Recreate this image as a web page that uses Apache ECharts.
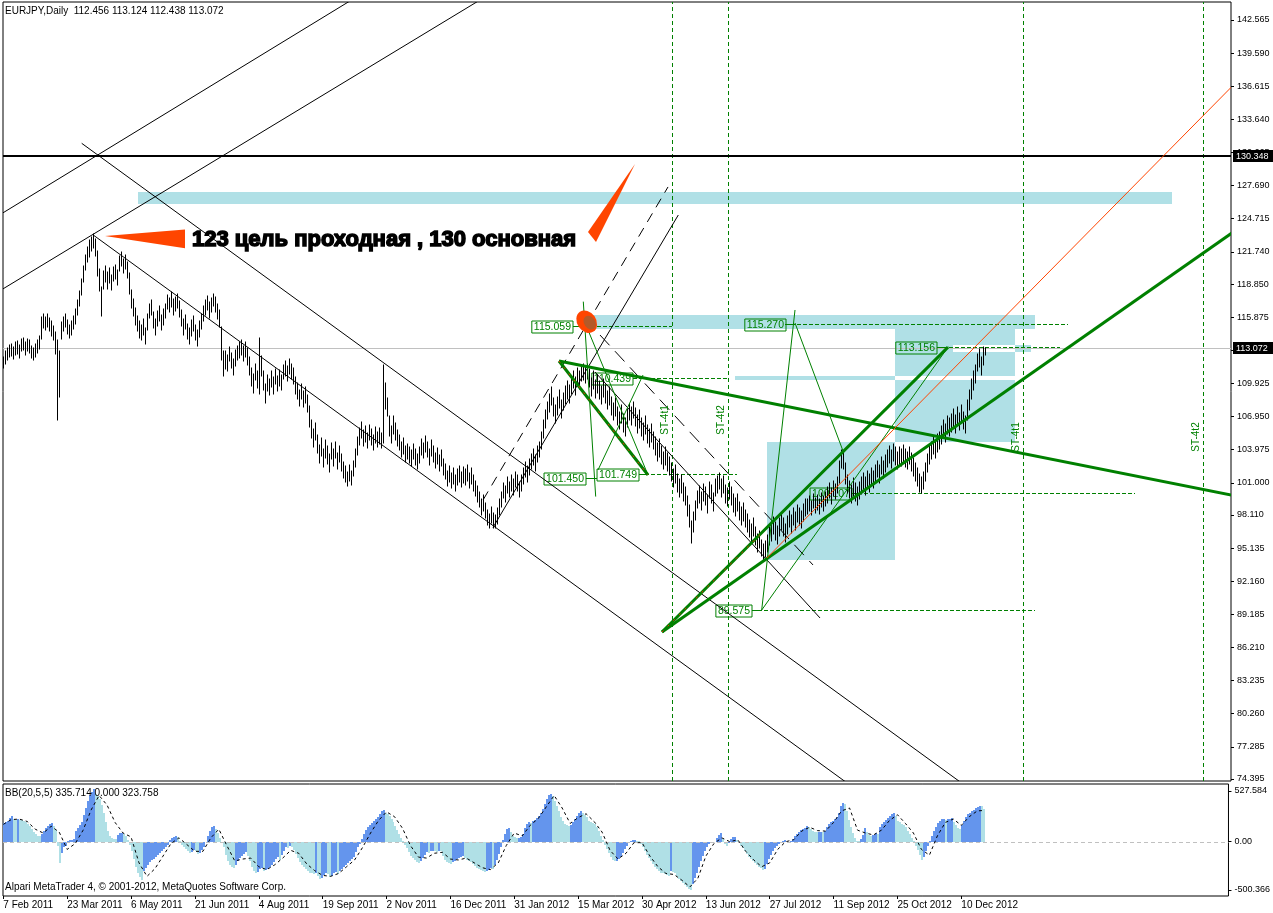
<!DOCTYPE html>
<html><head><meta charset="utf-8">
<script src="https://cdn.jsdelivr.net/npm/echarts@6/dist/echarts.min.js"></script>
<style>html,body{margin:0;padding:0;background:#fff}#c{width:1273px;height:913px}</style>
</head><body><div id="c"></div>
<script>
// ---------------- DATA ----------------
const dateLabels = ['7 Feb 2011','23 Mar 2011','6 May 2011','21 Jun 2011','4 Aug 2011','19 Sep 2011','2 Nov 2011','16 Dec 2011','31 Jan 2012','15 Mar 2012','30 Apr 2012','13 Jun 2012','27 Jul 2012','11 Sep 2012','25 Oct 2012','10 Dec 2012'];
const dateTickBars = [0,32,64,96,128,160,192,224,256,288,320,352,384,416,448,480];
const priceTicks = [142.565,139.590,136.615,133.640,130.665,127.690,124.715,121.740,118.850,115.875,112.900,109.925,106.950,103.975,101.000,98.110,95.135,92.160,89.185,86.210,83.235,80.260,77.285,74.395];
const oscTicks = [527.584, 0, -500.366];
const oscTickLabels = ['527.584','0.00','-500.366'];

const highs = [
112.3,112.8,113.1,113.4,113.5,113.2,113.6,113.7,113.4,113.9,
114.0,113.6,113.9,113.8,113.3,113.1,113.5,113.8,114.2,115.9,
116.2,115.9,116.2,115.8,115.5,115.1,114.5,113.8,112.8,115.4,
115.9,116.2,115.6,115.2,115.5,116.0,116.6,117.4,118.2,119.3,
120.5,121.5,122.2,122.8,123.1,123.3,122.9,121.8,120.2,118.6,
120.0,120.5,119.9,120.3,119.7,120.4,120.6,120.1,121.4,121.7,
121.1,121.5,120.8,119.8,118.3,117.5,116.7,116.0,115.5,115.2,
115.7,114.9,116.2,117.1,117.4,116.3,115.7,116.4,116.9,116.1,
116.6,117.1,117.9,117.6,118.1,117.5,117.7,118.0,117.3,116.5,
115.7,116.1,115.3,114.9,115.6,116.0,115.2,114.7,115.5,116.2,
116.9,117.4,117.8,117.2,117.6,118.0,117.7,117.1,116.5,115.0,
112.8,112.8,112.5,113.2,112.7,112.1,112.9,113.3,113.6,113.8,
113.3,113.6,113.1,112.3,111.3,110.8,111.7,111.0,114.0,112.4,
111.0,109.9,110.7,110.3,111.0,110.5,111.2,110.6,111.1,110.7,
111.6,111.9,111.5,112.1,111.7,111.3,110.5,110.0,109.3,109.9,
109.2,109.6,108.9,107.9,106.6,105.8,106.4,105.3,104.4,105.0,
104.0,104.8,104.3,103.6,104.6,104.0,104.7,103.7,104.3,103.6,
102.9,102.5,102.0,102.6,102.1,103.0,104.0,105.1,105.9,106.5,
105.7,106.1,105.5,106.2,105.8,105.3,106.0,105.6,105.9,105.5,
111.6,110.0,108.6,107.0,106.1,107.0,106.4,105.7,105.3,104.7,
105.0,104.3,104.5,104.2,103.9,104.5,104.0,103.6,104.2,104.9,
104.6,105.2,104.7,104.0,104.8,104.3,103.7,104.1,103.5,103.9,
103.1,102.7,102.1,102.5,101.9,102.3,101.7,102.2,102.5,102.0,
102.4,102.2,102.6,101.9,102.3,101.7,101.2,100.7,100.2,99.5,
99.9,99.2,98.6,98.2,98.8,98.3,98.1,98.7,99.5,100.2,
101.0,100.7,101.5,101.1,101.7,101.3,102.0,101.7,101.1,101.7,
102.3,102.9,102.5,103.1,103.6,104.0,103.5,104.3,104.7,105.6,
106.6,107.5,108.3,109.0,109.6,108.6,108.0,108.7,109.3,108.4,
109.1,109.7,110.1,109.8,110.6,111.0,110.5,111.3,111.0,111.6,
111.7,111.5,111.7,111.2,110.4,111.0,110.2,110.7,110.1,109.7,
110.3,109.8,109.2,109.6,108.7,108.2,108.6,107.8,107.4,108.0,
107.2,106.8,107.6,108.1,107.8,108.3,107.7,107.1,107.5,106.8,
106.4,107.0,106.2,105.8,106.3,105.6,105.1,104.6,104.9,104.3,
103.8,104.2,103.7,103.3,102.8,102.2,102.6,101.8,101.3,101.7,
101.0,100.6,99.8,99.0,97.6,98.4,99.4,100.3,100.7,100.2,
100.9,100.6,99.9,101.1,100.8,100.1,101.3,101.6,101.9,101.3,
101.6,100.8,100.5,101.1,100.6,100.0,99.6,100.0,99.3,98.8,
99.2,98.6,98.2,97.7,97.3,97.8,97.0,96.4,96.7,95.9,
95.5,95.8,96.3,97.0,97.4,97.9,97.5,97.1,97.8,98.3,
97.8,97.3,98.0,98.5,98.1,98.7,98.4,99.0,98.7,98.5,
99.1,99.5,99.5,99.8,99.4,100.0,99.6,99.9,99.5,100.1,
99.8,100.2,100.6,101.0,100.5,101.2,100.9,101.5,103.0,103.9,
103.8,102.8,101.7,101.2,100.8,101.4,101.0,100.6,101.1,101.5,
101.9,101.5,102.1,101.8,102.3,102.1,102.6,103.0,102.6,103.3,
103.0,103.5,103.9,104.3,103.9,104.5,104.2,103.8,104.2,104.0,
104.4,104.0,103.8,104.2,103.7,103.2,102.8,102.3,101.8,101.5,
102.0,102.8,103.6,104.3,104.7,105.2,104.8,105.4,105.6,106.1,
106.6,106.3,107.0,106.8,107.2,107.6,107.1,107.8,107.3,108.0,
107.4,107.0,108.4,109.3,110.3,111.0,111.6,112.6,113.0,112.3,
113.2,113.124];

const lows = [
111.3,111.7,112.0,112.3,112.4,112.1,112.5,112.6,112.2,112.8,
112.9,112.5,112.8,112.7,112.2,112.0,112.3,112.7,113.0,113.9,
114.9,114.7,115.0,114.6,114.2,113.8,112.6,106.6,108.7,113.9,
114.6,115.0,114.4,114.0,114.3,114.8,115.3,116.1,116.9,117.9,
119.0,120.1,120.8,121.3,121.8,122.1,121.4,119.6,118.2,116.0,
118.4,119.0,118.4,118.9,118.3,119.1,119.3,118.8,120.0,120.5,
119.8,120.2,119.4,118.0,116.7,116.0,115.2,114.6,114.0,113.8,
114.3,113.5,114.7,115.8,116.1,114.9,114.3,115.1,115.5,114.7,
115.2,115.8,116.6,116.3,116.8,116.1,116.4,116.7,115.9,115.1,
114.3,114.8,113.9,113.5,114.2,114.6,113.8,113.3,114.1,114.8,
115.5,116.1,116.5,115.8,116.3,116.9,116.3,115.7,115.0,112.0,
110.6,111.2,111.0,111.9,111.3,110.7,111.5,112.0,112.2,112.5,
111.9,112.3,111.6,110.7,109.7,109.1,110.2,109.5,109.0,110.6,
109.3,108.2,109.2,108.9,109.6,109.0,109.9,109.2,109.7,109.3,
110.3,110.6,110.1,110.8,110.3,109.9,109.0,108.5,107.9,108.5,
107.8,108.2,107.4,106.0,105.0,104.2,104.8,103.7,102.8,103.4,
102.4,103.2,102.7,102.0,103.1,102.5,103.2,102.2,102.9,102.1,
101.4,101.1,100.7,101.2,100.8,101.6,102.4,103.5,104.4,105.0,
104.3,104.7,104.1,104.8,104.4,103.9,104.6,104.2,104.5,104.1,
104.6,107.6,107.0,105.2,104.6,105.4,104.8,104.3,103.9,103.3,
103.6,102.9,103.1,102.8,102.5,103.1,102.6,102.2,102.8,103.5,
103.2,103.8,103.3,102.6,103.4,102.9,102.3,102.7,102.1,102.5,
101.7,101.3,100.7,101.1,100.5,100.9,100.3,100.8,101.1,100.6,
101.0,100.8,101.2,100.5,100.9,100.3,99.8,99.3,98.8,98.1,
98.5,97.8,97.2,96.9,97.4,96.9,96.9,97.3,98.1,98.8,
99.6,99.3,100.1,99.7,100.3,99.9,100.6,100.3,99.7,100.3,
100.9,101.5,101.1,101.7,102.2,102.6,102.1,102.9,103.3,104.0,
105.0,105.9,106.7,107.4,108.0,107.0,106.4,107.1,107.7,106.8,
107.5,108.1,108.5,108.2,109.0,109.5,108.9,109.8,109.4,110.1,
110.2,110.0,110.3,109.6,108.8,109.4,108.6,109.1,108.5,108.1,
108.7,108.2,107.6,108.0,107.1,106.6,107.0,106.2,105.8,106.4,
105.6,105.2,106.0,106.6,106.2,106.8,106.1,105.5,105.9,105.2,
104.8,105.4,104.6,104.2,104.7,104.0,103.5,103.0,103.3,102.7,
102.2,102.6,102.1,101.7,101.2,100.6,101.0,100.2,99.7,100.1,
99.4,99.0,98.0,97.0,95.6,96.6,97.7,98.7,99.2,98.6,
99.4,99.0,98.3,99.6,99.2,98.5,99.8,100.1,100.4,99.7,
100.1,99.2,98.9,99.5,99.0,98.4,98.0,98.5,97.7,97.2,
97.6,97.0,96.6,96.1,95.7,96.2,95.4,94.8,95.1,94.4,
94.1,94.3,94.8,95.4,95.8,96.4,95.9,95.5,96.2,96.8,
96.2,95.7,96.4,97.0,96.5,97.2,96.8,97.5,97.2,96.9,
97.6,98.0,98.2,98.5,98.1,98.7,98.3,98.6,98.2,98.8,
98.5,98.9,99.2,99.6,99.1,99.8,99.5,100.1,101.0,102.3,
102.2,100.9,100.1,99.6,99.2,99.8,99.4,99.0,99.5,100.0,
100.4,99.9,100.6,100.2,100.8,100.5,101.1,101.5,101.0,101.8,
101.4,102.0,102.4,102.8,102.3,103.0,102.6,102.2,102.7,102.5,
102.9,102.4,102.2,102.7,102.1,101.6,101.2,100.7,100.2,100.1,
100.4,101.2,102.0,102.7,103.1,103.6,103.2,103.8,104.0,104.5,
105.0,104.7,105.4,105.2,105.6,106.0,105.5,106.2,105.7,106.4,
105.8,105.5,106.6,107.5,108.5,109.3,110.0,111.0,111.4,110.7,
111.6,112.438];

const hist = [
190,200,215,250,265,240,230,235,228,225,
215,200,185,160,130,100,75,60,55,80,
110,140,165,185,195,160,120,-40,-220,-120,
-60,-40,10,15,20,25,110,140,170,200,
280,350,420,480,520,545,500,470,440,380,
300,200,110,60,40,30,25,70,90,95,
75,60,20,-30,-100,-180,-260,-320,-370,-395,
-300,-270,-240,-215,-195,-180,-160,-140,-120,-100,
-80,-60,-30,20,40,50,55,45,10,-30,
-60,-80,-100,-120,-110,-90,-100,-130,-120,-90,
-50,0,60,110,150,160,130,90,40,0,
-60,-140,-200,-240,-265,-270,-240,-200,-170,-150,
-130,-110,-150,-200,-260,-300,-330,-310,-280,-270,
-300,-290,-280,-260,-240,-210,-180,-160,-190,-140,
-100,-60,-70,-40,-60,-90,-130,-170,-210,-240,
-260,-280,-300,-320,-330,-340,-320,-360,-390,-380,
-350,-330,-340,-370,-360,-330,-310,-340,-300,-280,
-260,-240,-220,-200,-180,-160,-110,-60,-20,30,
80,120,150,170,190,210,240,260,290,320,
330,300,290,270,240,200,160,120,80,40,
10,-30,-70,-110,-150,-170,-190,-210,-220,-200,
-170,-140,-110,-120,-100,-95,-100,-110,-95,-100,
-150,-190,-210,-220,-230,-210,-200,-180,-170,-160,
-150,-170,-190,-200,-210,-230,-250,-270,-280,-290,
-300,-310,-300,-290,-270,-280,-240,-190,-130,-60,
20,80,130,140,100,60,45,35,40,50,
80,140,180,200,190,210,230,250,270,300,
340,390,440,480,500,470,420,370,320,260,
210,180,170,165,175,200,240,270,300,315,
300,280,260,220,200,190,180,150,110,60,
20,-30,-80,-120,-160,-190,-205,-200,-180,-160,
-120,-80,-40,-10,5,15,20,10,5,-20,
-60,-100,-140,-170,-200,-230,-260,-280,-300,-320,
-330,-340,-350,-360,-300,-310,-330,-360,-390,-410,
-430,-450,-470,-490,-500,-440,-380,-320,-260,-200,
-150,-100,-50,-20,-15,-10,-5,40,70,90,
30,-20,-40,-10,30,45,50,20,-10,-40,
-70,-100,-130,-160,-180,-200,-220,-240,-260,-275,
-290,-280,-230,-180,-140,-100,-70,-40,-20,-10,
10,15,-5,-15,5,30,60,80,100,120,
130,145,160,155,130,115,105,100,100,105,
100,110,150,180,200,220,240,260,300,370,
400,390,320,230,150,90,40,10,5,30,
70,140,100,70,60,65,70,90,80,150,
180,200,230,250,270,290,295,270,220,200,
180,170,150,110,80,40,10,-40,-90,-140,
-190,-160,-100,-40,10,60,110,150,190,220,
235,240,230,235,240,245,200,170,140,135,
170,220,260,290,300,320,330,345,360,375,
370,336];

const signalStep = 4;
const signal = [
180,230,235,210,130,90,160,100,-80,-20,
120,330,480,380,200,90,50,-220,-360,-280,
-150,-20,40,-30,-100,-100,40,130,-40,-200,
-180,-170,-260,-290,-240,-170,-90,-120,-230,-300,
-350,-360,-330,-260,-190,-60,90,220,310,260,
140,-40,-160,-170,-120,-110,-180,-190,-170,-220,
-270,-290,-220,-40,90,60,170,240,360,480,
350,190,250,290,210,100,-90,-180,-120,-10,
-10,-150,-260,-330,-340,-400,-470,-380,-150,-20,
40,0,20,-100,-190,-260,-220,-80,0,20,
110,150,115,110,200,320,350,120,90,70,
120,220,280,190,90,-80,-140,60,200,235,
170,260,320];
const lastSignal = 323.758;

const currentPrice = 113.072;
const levelPrice = 130.348;
const priceMarks = [130.348, 113.072];

// chart objects (bar index, price)
const blackLines = [
  [-0.3,125.23, 182.3,145.26],
  [-0.3,118.40, 246.6,145.26],
  [39.2,131.49, 490.85,72.51],
  [45.0,123.25, 433.6,72.51],
  [244.85,96.99, 337.5,125.05],
  [295.85,110.95, 408.35,88.86]
];
const blackDashLong = [[239.85,99.45, 332.35,127.57]];
const blackDashLong2 = [[298.35,114.27, 404.85,93.62]];
const lightBlueRects = [
  [67.5,127.14, 584.35,126.04],
  [294.85,116.07, 515.85,114.81],
  [445.85,114.81, 505.85,104.69],
  [381.7,104.69, 445.85,94.07],
  [365.85,110.59, 445.85,110.23],
  [505.85,113.38, 513.85,112.77]
];
const whiteRects = [
  [445.85,110.59, 505.85,110.23],
  [475.0,113.38, 505.85,112.77]
];
const levelLines = [ // [fromBar, toBar, price]
  [284.85,334.35,115.059],
  [390.85,532.35,115.270],
  [466.85,528.35,113.156],
  [314.85,361.85,110.439],
  [317.85,366.85,101.749],
  [424.35,565.85,100.107],
  [374.35,515.85,89.575]
];
const levelLabels = [ // [boxRightBar, price, anchorBar]
  [284.85,115.059,290.85],
  [391.35,115.270,395.85],
  [466.85,113.156,472.35],
  [314.85,110.439,314.85],
  [291.35,101.450,296.85],
  [317.85,101.749,322.35],
  [424.35,100.107,428.35],
  [374.35,89.575,379.35]
];
const stBars = [334.35, 362.35, 509.85, 599.85];
const stTexts = [['ST-4t1',330.85,106.64],['ST-4t2',358.85,106.64],['ST-4t1',506.35,105.11],['ST-4t2',596.35,105.11]];
const thickGreen = [
  [277.85,111.94, 620,99.68],
  [329.35,87.60, 472.35,113.19],
  [329.35,87.60, 620,124.15],
  [277.85,111.94, 322.35,101.70]
];
const redDotted = [
  [277.85,111.94, 322.35,101.70],
  [329.35,87.60, 380.0,96.63]
];
const thinGreen = [
  [290.0,117.27, 296.2,99.76],
  [292.35,114.72, 322.35,101.70],
  [297.35,102.15, 319.85,110.68],
  [379.2,89.57, 395.85,116.52],
  [395.85,115.35, 420.0,103.79],
  [379.2,89.57, 472.5,113.22]
];
const orangeLine = [[381.7,94.24, 614.2,136.57]];
const wedges = [
  [[50.85,123.16],[90.85,123.76],[90.85,122.06]],
  [[315.85,129.63],[292.35,123.52],[296.35,122.63]]
];
const ellipseAt = [291.7,115.47];
const noteText = ['123 цель проходная , 130 основная', 94.35, 122.81];

// ---------------- LAYOUT ----------------
const XMIN=-0.15, XMAX=613.85, YMIN=74.216, YMAX=144.182, OMIN=-563.9, OMAX=599.2;
const FONT='"Liberation Sans", Arial, sans-serif';
const GREEN='#008000', LB='#B0E0E6', DARK='#6495ED', ORANGE='#FF4500';

function segSeries(data, style, z, gi, crisp){
  return {type:'custom', xAxisIndex:gi||0, yAxisIndex:gi||0, z:z, clip:true, silent:true, animation:false,
    data:data, encode:{x:[0,2], y:[1,3]},
    renderItem:function(p,api){
      const a=api.coord([api.value(0),api.value(1)]), b=api.coord([api.value(2),api.value(3)]);
      let x1=a[0],y1=a[1],x2=b[0],y2=b[1];
      if(crisp){ if(Math.abs(y1-y2)<0.01){y1=y2=Math.round(y1)+0.5;} if(Math.abs(x1-x2)<0.01){x1=x2=Math.round(x1)+0.5;} }
      return {type:'line', shape:{x1:x1,y1:y1,x2:x2,y2:y2}, style:Object.assign({fill:null}, style)};
    }};
}
function rectSeries(data, color, z){
  return {type:'custom', xAxisIndex:0, yAxisIndex:0, z:z, clip:true, silent:true, animation:false,
    data:data, encode:{x:[0,2], y:[1,3]},
    renderItem:function(p,api){
      const a=api.coord([api.value(0),api.value(1)]), b=api.coord([api.value(2),api.value(3)]);
      const x=Math.round(Math.min(a[0],b[0])), y=Math.round(Math.min(a[1],b[1]));
      return {type:'rect', shape:{x:x,y:y,width:Math.round(Math.abs(b[0]-a[0])),height:Math.max(1,Math.round(Math.abs(b[1]-a[1])))}, style:{fill:color}};
    }};
}

const barData = highs.map((h,i)=>[i, lows[i], h]);
const histData = hist.map((v,i)=>[i, v, (i===0 || v>=hist[i-1]) ? 1 : 0]);
const signalData = signal.map((v,k)=>[k*signalStep, v]).concat([[highs.length-1, lastSignal]]);
const levelSegs = levelLines.map(d=>[d[0],d[2],d[1],d[2]]);
const vertSegs = stBars.map(b=>[b,YMIN,b,YMAX]);

const series = [
  rectSeries(lightBlueRects, LB, 1),
  rectSeries(whiteRects, '#fff', 2),
  segSeries(vertSegs, {stroke:GREEN, lineWidth:1, lineDash:[4,3]}, 3, 0, true),
  segSeries([[XMIN,currentPrice,XMAX,currentPrice]], {stroke:'#C0C0C0', lineWidth:1}, 3, 0, true),
  segSeries([[XMIN,levelPrice,XMAX,levelPrice]], {stroke:'#000', lineWidth:2}, 3, 0, false),
  segSeries(levelSegs, {stroke:GREEN, lineWidth:1, lineDash:[4,2]}, 3, 0, true),
  { // price labels boxes
    type:'custom', xAxisIndex:0, yAxisIndex:0, z:3, clip:true, silent:true, animation:false,
    data:levelLabels, encode:{x:[0,2], y:1},
    renderItem:function(p,api){
      const r=api.coord([api.value(0),api.value(1)]), an=api.coord([api.value(2),api.value(1)]);
      const y=Math.round(r[1])+0.5;
      return {type:'group', children:[
        {type:'line', shape:{x1:r[0],y1:y,x2:an[0],y2:y}, style:{stroke:GREEN,lineWidth:1}},
        {type:'text', x:Math.round(r[0]), y:Math.round(r[1])+1, style:{text:api.value(1).toFixed(3), fill:GREEN, font:'10.5px '+FONT, align:'right', verticalAlign:'middle', padding:[1,2,0,2], borderColor:GREEN, borderWidth:1}}
      ]};
    }},
  segSeries(blackLines, {stroke:'#000', lineWidth:1}, 4, 0, false),
  segSeries(blackDashLong, {stroke:'#000', lineWidth:1, lineDash:[10,7]}, 4, 0, false),
  segSeries(blackDashLong2, {stroke:'#000', lineWidth:1, lineDash:[14,8]}, 4, 0, false),
  { // price bars
    type:'custom', xAxisIndex:0, yAxisIndex:0, z:5, clip:true, silent:true, animation:false,
    data:barData, encode:{x:0, y:[1,2]},
    renderItem:function(p,api){
      const lo=api.coord([api.value(0),api.value(1)]), hi=api.coord([api.value(0),api.value(2)]);
      const x=Math.round(lo[0])+0.5;
      return {type:'line', shape:{x1:x,y1:Math.round(lo[1])+0.5,x2:x,y2:Math.round(hi[1])-0.5}, style:{stroke:'#000',lineWidth:1}};
    }},
  segSeries(thinGreen, {stroke:GREEN, lineWidth:1}, 6, 0, false),
  segSeries(thickGreen, {stroke:GREEN, lineWidth:3}, 7, 0, false),
  segSeries(redDotted, {stroke:'#FF2000', lineWidth:1, lineDash:[2,6]}, 7.5, 0, false),
  segSeries(orangeLine, {stroke:ORANGE, lineWidth:1}, 7, 0, false),
  { // wedges
    type:'custom', xAxisIndex:0, yAxisIndex:0, z:8, clip:true, silent:true, animation:false,
    data:wedges.map((w,i)=>[w[0][0], w[0][1], i]), encode:{x:0,y:1},
    renderItem:function(p,api){
      const w=wedges[api.value(2)];
      return {type:'polygon', shape:{points:w.map(pt=>api.coord(pt))}, style:{fill:ORANGE}};
    }},
  { // ellipse
    type:'custom', xAxisIndex:0, yAxisIndex:0, z:8, clip:true, silent:true, animation:false,
    data:[ellipseAt], encode:{x:0,y:1},
    renderItem:function(p,api){
      const c=api.coord([api.value(0),api.value(1)]);
      return {type:'group', children:[
        {type:'circle', x:c[0], y:c[1], scaleX:9.5, scaleY:12, rotation:0.6, shape:{cx:0,cy:0,r:1}, style:{fill:ORANGE}},
        {type:'circle', x:c[0]+3, y:c[1]+1, scaleX:5.5, scaleY:7.5, rotation:0.6, shape:{cx:0,cy:0,r:1}, style:{fill:'#B45A28'}}
      ]};
    }},
  { // note text
    type:'custom', xAxisIndex:0, yAxisIndex:0, z:8, clip:false, silent:true, animation:false,
    data:[[noteText[1], noteText[2]]], encode:{x:0,y:1},
    renderItem:function(p,api){
      const c=api.coord([api.value(0),api.value(1)]);
      return {type:'text', x:c[0], y:c[1], style:{text:noteText[0], fill:'#000', stroke:'#000', lineWidth:1.5, font:'bold 22px '+FONT, align:'left', verticalAlign:'middle'}};
    }},
  { // ST texts
    type:'custom', xAxisIndex:0, yAxisIndex:0, z:8, clip:false, silent:true, animation:false,
    data:stTexts.map((t,i)=>[t[1],t[2],i]), encode:{x:0,y:1},
    renderItem:function(p,api){
      const c=api.coord([api.value(0),api.value(1)]);
      return {type:'text', x:c[0], y:c[1], rotation:Math.PI/2, style:{text:stTexts[api.value(2)][0], fill:GREEN, font:'10px '+FONT, align:'center', verticalAlign:'middle'}};
    }},
  { // right-axis price marks (black boxes)
    type:'custom', xAxisIndex:0, yAxisIndex:0, z:20, clip:false, silent:true, animation:false,
    data:priceMarks.map(v=>[XMAX, v]), encode:{x:0,y:1},
    renderItem:function(p,api){
      const c=api.coord([api.value(0),api.value(1)]);
      const y=Math.round(c[1]);
      return {type:'group', children:[
        {type:'rect', shape:{x:1233,y:y-6,width:40,height:12}, style:{fill:'#000'}},
        {type:'text', x:1236, y:y+0.5, style:{text:api.value(1).toFixed(3), fill:'#fff', font:'9px '+FONT, align:'left', verticalAlign:'middle'}}
      ]};
    }},
  { // histogram
    type:'custom', xAxisIndex:1, yAxisIndex:1, z:2, clip:true, silent:true, animation:false,
    data:histData, encode:{x:0,y:1},
    renderItem:function(p,api){
      const a=api.coord([api.value(0),0]), b=api.coord([api.value(0),api.value(1)]);
      const x=Math.round(a[0]), y0=Math.round(a[1]), y1=Math.round(b[1]);
      return {type:'rect', shape:{x:x, y:Math.min(y0,y1), width:2, height:Math.abs(y1-y0)}, style:{fill: api.value(2) ? DARK : LB}};
    }},
  segSeries([[XMIN,0,XMAX,0]], {stroke:'#C0C0C0', lineWidth:1, lineDash:[4,3]}, 3, 1, true),
  {type:'line', xAxisIndex:1, yAxisIndex:1, z:4, data:signalData, symbol:'none', silent:true, animation:false,
   lineStyle:{color:'#000', width:1, type:[3,3]}}
];

const chart = echarts.init(document.getElementById('c'), null, {renderer:'canvas'});
chart.setOption({
  backgroundColor:'#fff',
  animation:false,
  textStyle:{fontFamily:FONT},
  grid:[
    {left:3, top:2, width:1228, height:779, show:true, borderColor:'#000', borderWidth:1, backgroundColor:'#fff'},
    {left:3, top:784, width:1228, height:112, show:true, borderColor:'#000', borderWidth:1, backgroundColor:'#fff'}
  ],
  xAxis:[
    {gridIndex:0, type:'value', min:XMIN, max:XMAX, show:false, axisLine:{onZero:false}},
    {gridIndex:1, type:'value', min:XMIN, max:XMAX, position:'bottom',
     axisLine:{show:false, onZero:false}, splitLine:{show:false},
     axisTick:{show:true, length:3, lineStyle:{color:'#000'}, customValues:dateTickBars},
     axisLabel:{customValues:dateTickBars, color:'#000', fontSize:10, fontFamily:FONT, align:'left', margin:4,
       formatter:function(v){const k=dateTickBars.indexOf(Math.round(v)); return k>=0?dateLabels[k]:'';}}}
  ],
  yAxis:[
    {gridIndex:0, type:'value', position:'right', min:YMIN, max:YMAX,
     axisLine:{show:false, onZero:false}, splitLine:{show:false},
     axisTick:{show:true, length:3, lineStyle:{color:'#000'}, customValues:priceTicks},
     axisLabel:{customValues:priceTicks, color:'#000', fontSize:9, fontFamily:FONT, margin:6,
       formatter:function(v){return v.toFixed(3);}}},
    {gridIndex:1, type:'value', position:'right', min:OMIN, max:OMAX,
     axisLine:{show:false, onZero:false}, splitLine:{show:false},
     axisTick:{show:true, length:3, lineStyle:{color:'#000'}, customValues:oscTicks},
     axisLabel:{customValues:oscTicks, color:'#000', fontSize:9, fontFamily:FONT, margin:6,
       formatter:function(v){const k=oscTicks.findIndex(t=>Math.abs(t-v)<1e-6); return k>=0?oscTickLabels[k]:'';}}}
  ],
  graphic:[
    {type:'text', left:5, top:6, z:100, style:{text:'EURJPY,Daily  112.456 113.124 112.438 113.072', fill:'#000', font:'10px '+FONT}},
    {type:'text', left:5, top:788, z:100, style:{text:'BB(20,5,5) 335.714 0.000 323.758', fill:'#000', font:'10px '+FONT}},
    {type:'text', left:5, top:882, z:100, style:{text:'Alpari MetaTrader 4, © 2001-2012, MetaQuotes Software Corp.', fill:'#000', font:'10px '+FONT}}
  ],
  series:series
});
</script>
</body></html>
